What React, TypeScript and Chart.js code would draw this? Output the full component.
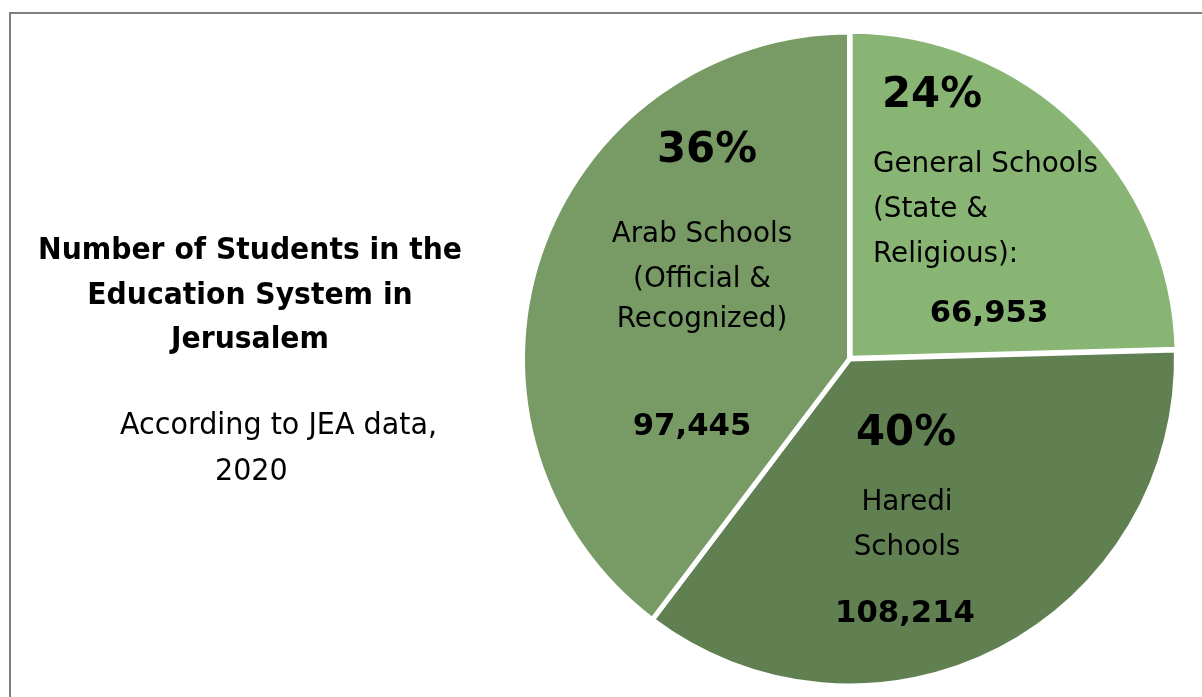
import React, { useEffect, useRef } from "react";
import { Chart, registerables } from "chart.js";

Chart.register(...registerables);

// Slice sizes as drawn, clockwise from 12 o'clock
const sliceNamesData = ["General Schools", "Haredi Schools", "Arab Schools"];
const sliceValues = [66953, 97445, 108214];
const sliceColors = ["#89B574", "#608052", "#789A65"];

// Text annotations shown inside each slice (as in the source picture)
const slicePercents = ["24%", "40%", "36%"];
const sliceCounts = ["66,953", "108,214", "97,445"];
const sliceNameLines = [
  ["General Schools", "(State &", "Religious):"],
  ["Haredi", "Schools"],
  ["Arab Schools", "(Official &", "Recognized)"],
];

const titleLines = ["Number of Students in the", "Education System in", "Jerusalem"];
const subtitleLines = ["According to JEA data,", "2020"];

const FAMILY = '"DejaVu Sans", sans-serif';

type Style = { size: number; bold: boolean; sx: number };

function makeStyle(ctx: CanvasRenderingContext2D, size: number, bold: boolean, refText: string, refWidth: number): Style {
  ctx.font = `${bold ? "bold " : ""}${size}px ${FAMILY}`;
  const w = ctx.measureText(refText).width;
  return { size, bold, sx: refWidth / w };
}

const textPlugin = {
  id: "textPlugin",
  afterDraw(chart: any) {
    const ctx: CanvasRenderingContext2D = chart.ctx;
    ctx.save();
    // frame
    ctx.fillStyle = "#7f7f7f";
    ctx.fillRect(9, 12, 1193, 2);
    ctx.fillRect(9, 12, 2, 685);

    ctx.fillStyle = "#000000";
    ctx.textBaseline = "alphabetic";

    const draw = (t: string, x: number, y: number, st: Style, align: CanvasTextAlign) => {
      ctx.save();
      ctx.font = `${st.bold ? "bold " : ""}${st.size}px ${FAMILY}`;
      ctx.textAlign = align;
      ctx.translate(x, y);
      ctx.scale(st.sx, 1);
      ctx.fillText(t, 0, 0);
      ctx.restore();
    };

    const title = makeStyle(ctx, 30.5, true, titleLines[0], 424);
    const sub = makeStyle(ctx, 31, false, subtitleLines[0], 317);
    const name = makeStyle(ctx, 29, false, "General Schools", 225);
    const pct = makeStyle(ctx, 42, true, "24%", 100);
    const cnt = makeStyle(ctx, 30.5, true, "108,214", 140);

    // title
    const tBase = [259, 304, 348];
    titleLines.forEach((l, i) => draw(l, 250, tBase[i], title, "center"));

    // subtitle
    draw(subtitleLines[0], 120, 434, sub, "left");
    draw(subtitleLines[1], 215, 480, sub, "left");

    // General slice
    draw(slicePercents[0], 882, 107, pct, "left");
    const gBase = [172, 217, 262];
    sliceNameLines[0].forEach((l, i) => draw(l, 873, gBase[i], name, "left"));
    draw(sliceCounts[0], 989, 322, cnt, "center");

    // Haredi slice
    draw(slicePercents[1], 906, 445, pct, "center");
    const hBase = [510, 555];
    sliceNameLines[1].forEach((l, i) => draw(l, 907, hBase[i], name, "center"));
    draw(sliceCounts[1], 905, 622, cnt, "center");

    // Arab slice
    draw(slicePercents[2], 707, 162, pct, "center");
    const aBase = [242, 287, 327];
    sliceNameLines[2].forEach((l, i) => draw(l, 702, aBase[i], name, "center"));
    draw(sliceCounts[2], 692, 435, cnt, "center");

    ctx.restore();
  },
};

export default function App() {
  const ref = useRef<HTMLCanvasElement | null>(null);
  useEffect(() => {
    if (!ref.current) return;
    const chart = new Chart(ref.current, {
      type: "pie",
      data: {
        labels: sliceNamesData,
        datasets: [
          {
            data: sliceValues,
            backgroundColor: sliceColors,
            borderColor: "#ffffff",
            borderWidth: 5,
            offset: [4, 0, 0],
          },
        ],
      },
      options: {
        responsive: false,
        animation: false,
        devicePixelRatio: 1,
        radius: 327,
        layout: { padding: { left: 497, top: 21, right: 0, bottom: 0 } },
        plugins: {
          legend: { display: false },
          tooltip: { enabled: false },
        },
      },
      plugins: [textPlugin],
    } as any);
    return () => chart.destroy();
  }, []);
  return (
    <div style={{ position: "fixed", left: 0, top: 0, width: 1202, height: 697, background: "#fff" }}>
      <canvas ref={ref} width={1202} height={697} style={{ display: "block" }} />
    </div>
  );
}
